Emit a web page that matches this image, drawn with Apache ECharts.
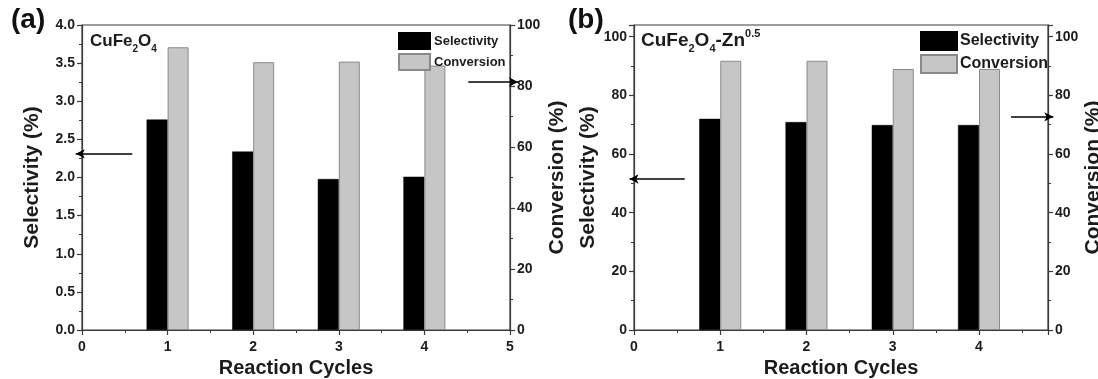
<!DOCTYPE html>
<html>
<head><meta charset="utf-8"></head>
<body style="margin:0;background:#fff">
<div id="chart" style="width:1098px;height:379px;"></div>
<script src="https://cdn.jsdelivr.net/npm/echarts@6/dist/echarts.min.js"></script>
<script>
const chart = echarts.init(document.getElementById('chart'));

// data
const cycles = [1, 2, 3, 4];
const selectivityA = [2.76, 2.34, 1.98, 2.01];   // left axis, panel (a)
const conversionA = [92.7, 87.8, 88.0, 86.7];    // right axis, panel (a)
const selectivityB = [72.0, 70.9, 69.9, 69.9];   // left axis, panel (b)
const conversionB = [91.8, 91.8, 89.0, 89.0];    // right axis, panel (b)

const FONT = '"Liberation Sans", Arial, sans-serif';
const INK = '#1c1c1c';
const AX = '#3a3a3a';

function pairs(vals) {
  return cycles.map((c, i) => [c, vals[i]]);
}

function label(extra) {
  return Object.assign({ color: INK, fontFamily: FONT, fontWeight: 'bold', fontSize: 14, margin: 7 }, extra);
}

// common axis look
function axisBase(extra) {
  return Object.assign({
    type: 'value',
    axisLine: { show: true, lineStyle: { color: AX, width: 1.2 } },
    axisTick: { show: true, inside: false, length: 5, lineStyle: { color: AX, width: 1.2 } },
    minorTick: { show: true, splitNumber: 2, length: 3, lineStyle: { color: AX } },
    splitLine: { show: false },
    axisLabel: label({}),
    nameTextStyle: { color: INK, fontFamily: FONT, fontWeight: 'bold', fontSize: 21 },
    nameLocation: 'middle',
    nameRotate: 90
  }, extra);
}

function arrow(from, to) {
  return {
    silent: true,
    symbol: ['none', 'arrow'],
    symbolSize: [7, 9],
    label: { show: false },
    lineStyle: { color: '#000', width: 1.5, type: 'solid' },
    data: [[{ coord: from }, { coord: to }]]
  };
}

const barBlack = { color: '#000', borderColor: '#000', borderWidth: 0.5 };
const barGray = { color: '#c6c6c6', borderColor: '#8a8a8a', borderWidth: 1 };

function titleRich(size) {
  const sub = Math.round(size * 0.6);
  return {
    m: { fontFamily: FONT, fontWeight: 'bold', fontSize: size, color: INK, lineHeight: 26, verticalAlign: 'middle' },
    sub: { fontFamily: FONT, fontWeight: 'bold', fontSize: sub, color: INK, lineHeight: 26, verticalAlign: 'bottom' },
    sup: { fontFamily: FONT, fontWeight: 'bold', fontSize: sub, color: INK, lineHeight: 26, verticalAlign: 'top' }
  };
}

const panelLetter = { fontFamily: FONT, fontWeight: 'bold', fontSize: 28, color: '#111' };

const option = {
  animation: false,
  backgroundColor: '#fff',
  title: [
    { text: '(a)', left: 6, top: 1, textStyle: panelLetter },
    { text: '{m|CuFe}{sub|2}{m|O}{sub|4}', left: 85, top: 23, textStyle: { rich: titleRich(17) } },
    { text: '(b)', left: 563, top: 1, textStyle: panelLetter },
    { text: '{m|CuFe}{sub|2}{m|O}{sub|4}{m|-Zn}{sup|0.5}', left: 636, top: 23, textStyle: { rich: titleRich(19) } }
  ],
  legend: [
    {
      data: ['Selectivity', 'Conversion'].map(n => ({ name: n })),
      orient: 'vertical', left: 393, top: 27, icon: 'rect',
      itemWidth: 31, itemHeight: 16, itemGap: 3,
      textStyle: { color: INK, fontFamily: FONT, fontWeight: 'bold', fontSize: 13, padding: [0, 0, 0, -1] },
      selectedMode: false
    },
    {
      data: ['Selectivity ', 'Conversion '].map(n => ({ name: n })),
      orient: 'vertical', left: 915, top: 26, icon: 'rect',
      itemWidth: 36, itemHeight: 18, itemGap: 3,
      textStyle: { color: INK, fontFamily: FONT, fontWeight: 'bold', fontSize: 16, padding: [0, 0, 0, -2] },
      selectedMode: false
    }
  ],
  grid: [
    { left: 82, right: 588, top: 25, bottom: 49, show: true, borderColor: AX, borderWidth: 1.2,
      backgroundColor: 'transparent', outerBoundsMode: 'none' },
    { left: 634, right: 50, top: 25, bottom: 49, show: true, borderColor: AX, borderWidth: 1.2,
      backgroundColor: 'transparent', outerBoundsMode: 'none' }
  ],
  xAxis: [
    axisBase({ gridIndex: 0, min: 0, max: 5, interval: 1, name: 'Reaction Cycles', nameRotate: 0, nameGap: 27,
      nameTextStyle: { color: INK, fontFamily: FONT, fontWeight: 'bold', fontSize: 20 },
      axisLabel: label({ margin: 10 }) }),
    axisBase({ gridIndex: 1, min: 0, max: 4.8, interval: 1, name: 'Reaction Cycles', nameRotate: 0, nameGap: 27,
      nameTextStyle: { color: INK, fontFamily: FONT, fontWeight: 'bold', fontSize: 20 },
      axisLabel: label({ margin: 10, showMaxLabel: false }) })
  ],
  yAxis: [
    axisBase({ gridIndex: 0, position: 'left', min: 0, max: 4, interval: 0.5, name: 'Selectivity (%)', nameGap: 39,
      axisLabel: label({ formatter: v => v.toFixed(1) }) }),
    axisBase({ gridIndex: 0, position: 'right', min: 0, max: 100, interval: 20, name: 'Conversion (%)', nameGap: 37 }),
    axisBase({ gridIndex: 1, position: 'left', min: 0, max: 104, interval: 20, name: 'Selectivity (%)', nameGap: 35,
      axisLabel: label({ showMaxLabel: false }) }),
    axisBase({ gridIndex: 1, position: 'right', min: 0, max: 104, interval: 20, name: 'Conversion (%)', nameGap: 31,
      axisLabel: label({ showMaxLabel: false }) })
  ],
  series: [
    {
      name: 'Selectivity', type: 'bar', xAxisIndex: 0, yAxisIndex: 0,
      data: pairs(selectivityA), barWidth: 21, barGap: '0%', itemStyle: barBlack,
      markLine: arrow([0.71, 2.31], [0.05, 2.31])
    },
    {
      name: 'Conversion', type: 'bar', xAxisIndex: 0, yAxisIndex: 1,
      data: pairs(conversionA), barWidth: 21, barGap: '0%', itemStyle: barGray,
      markLine: arrow([4.39, 81.3], [4.97, 81.3])
    },
    {
      name: 'Selectivity ', type: 'bar', xAxisIndex: 1, yAxisIndex: 2,
      data: pairs(selectivityB), barWidth: 21, barGap: '0%', itemStyle: barBlack,
      markLine: arrow([0.71, 51.5], [0.07, 51.5])
    },
    {
      name: 'Conversion ', type: 'bar', xAxisIndex: 1, yAxisIndex: 3,
      data: pairs(conversionB), barWidth: 21, barGap: '0%', itemStyle: barGray,
      markLine: arrow([4.25, 72.7], [4.74, 72.7])
    }
  ]
};

chart.setOption(option);
</script>
</body>
</html>
